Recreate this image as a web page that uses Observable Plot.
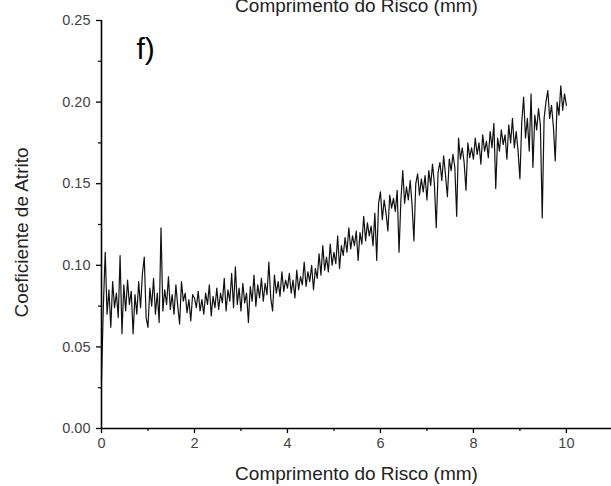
<!DOCTYPE html>
<html>
<head>
<meta charset="utf-8">
<script src="https://cdn.jsdelivr.net/npm/d3@7"></script>
<script src="https://cdn.jsdelivr.net/npm/@observablehq/plot@0.6"></script>
<style>
  html, body { margin: 0; padding: 0; background: white; }
</style>
</head>
<body>
<div id="chart"></div>
<script>
// Sampling of the scratch length (mm)
const xStart = 0;
const xStep = 0.04;

// Coefficient of friction, one value per 0.04 mm
const cof_0_1 = [0.03, 0.075, 0.108, 0.07, 0.085, 0.062, 0.09, 0.074, 0.083, 0.068, 0.106, 0.058, 0.088, 0.072, 0.091, 0.076, 0.084, 0.058, 0.082, 0.07, 0.09, 0.074, 0.095, 0.105, 0.068];
const cof_1_2 = [0.062, 0.086, 0.075, 0.092, 0.07, 0.083, 0.065, 0.123, 0.072, 0.085, 0.076, 0.093, 0.073, 0.082, 0.07, 0.088, 0.075, 0.064, 0.09, 0.078, 0.083, 0.071, 0.079, 0.066, 0.082];
const cof_2_3 = [0.08, 0.074, 0.084, 0.072, 0.079, 0.07, 0.083, 0.076, 0.088, 0.069, 0.081, 0.074, 0.086, 0.073, 0.083, 0.077, 0.092, 0.072, 0.085, 0.078, 0.095, 0.074, 0.099, 0.076, 0.086];
const cof_3_4 = [0.072, 0.089, 0.077, 0.083, 0.065, 0.087, 0.078, 0.094, 0.075, 0.088, 0.08, 0.092, 0.078, 0.089, 0.082, 0.102, 0.08, 0.072, 0.094, 0.083, 0.09, 0.081, 0.096, 0.084, 0.091];
const cof_4_5 = [0.086, 0.095, 0.083, 0.091, 0.08, 0.097, 0.085, 0.093, 0.088, 0.102, 0.087, 0.096, 0.09, 0.1, 0.085, 0.098, 0.092, 0.107, 0.094, 0.112, 0.097, 0.105, 0.096, 0.113, 0.1];
const cof_5_6 = [0.108, 0.101, 0.118, 0.098, 0.112, 0.106, 0.117, 0.108, 0.123, 0.11, 0.118, 0.112, 0.121, 0.103, 0.12, 0.113, 0.13, 0.115, 0.126, 0.118, 0.124, 0.112, 0.132, 0.103, 0.138];
const cof_6_7 = [0.145, 0.128, 0.14, 0.132, 0.121, 0.143, 0.135, 0.141, 0.133, 0.146, 0.108, 0.14, 0.158, 0.138, 0.148, 0.14, 0.152, 0.137, 0.115, 0.15, 0.156, 0.143, 0.153, 0.145, 0.155];
const cof_7_8 = [0.14, 0.158, 0.149, 0.162, 0.15, 0.123, 0.157, 0.163, 0.152, 0.167, 0.155, 0.142, 0.165, 0.158, 0.168, 0.16, 0.13, 0.178, 0.165, 0.172, 0.163, 0.146, 0.175, 0.166, 0.172];
const cof_8_9 = [0.165, 0.178, 0.168, 0.175, 0.162, 0.18, 0.17, 0.176, 0.166, 0.182, 0.172, 0.187, 0.147, 0.178, 0.17, 0.183, 0.174, 0.18, 0.165, 0.186, 0.175, 0.19, 0.172, 0.182, 0.17];
const cof_9_10 = [0.153, 0.188, 0.203, 0.178, 0.19, 0.17, 0.205, 0.16, 0.192, 0.183, 0.196, 0.186, 0.129, 0.19, 0.2, 0.207, 0.19, 0.198, 0.185, 0.164, 0.2, 0.192, 0.21, 0.195, 0.205, 0.198];

// Tick values and labels
const xTicks = [0, 2, 4, 6, 8, 10];
const xMinorTicks = [1, 3, 5, 7, 9];
const yTicks = [0, 0.05, 0.10, 0.15, 0.20, 0.25];
const yMinorTicks = [0.025, 0.075, 0.125, 0.175, 0.225];
const xLabel = "Comprimento do Risco (mm)";
const yLabel = "Coeficiente de Atrito";
const panelLabel = "f)";

const cof = [].concat(cof_0_1, cof_1_2, cof_2_3, cof_3_4, cof_4_5, cof_5_6, cof_6_7, cof_7_8, cof_8_9, cof_9_10);
const data = cof.map((v, i) => ({x: xStart + i * xStep, y: v}));

const font = "'Liberation Sans', Arial, sans-serif";

const chart = Plot.plot({
  width: 611,
  height: 486,
  marginLeft: 101,
  marginRight: 0,
  marginTop: 20,
  marginBottom: 58,
  style: {fontFamily: font, background: "white", color: "black", overflow: "visible"},
  x: {domain: [0, 10.97]},
  y: {domain: [0, 0.25]},
  marks: [
    Plot.axisY(yTicks, {tickSize: 5, tickPadding: 6, tickFormat: d => d.toFixed(2), fontSize: 14.5, fill: "#444", stroke: "black", strokeWidth: 1.3, label: null}),
    Plot.axisY(yMinorTicks, {tickSize: 3, tickFormat: () => "", stroke: "black", strokeWidth: 1.2, label: null}),
    Plot.axisX(xTicks, {tickSize: 5, tickPadding: 4, fontSize: 14.5, fill: "#444", stroke: "black", strokeWidth: 1.3, label: null}),
    Plot.axisX(xMinorTicks, {tickSize: 3, tickFormat: () => "", stroke: "black", strokeWidth: 1.2, label: null}),
    Plot.line(data, {x: "x", y: "y", stroke: "#111", strokeWidth: 1.2}),
    Plot.ruleX([0], {stroke: "black", strokeWidth: 1.6}),
    Plot.ruleY([0], {stroke: "black", strokeWidth: 1.6}),
    Plot.text([xLabel], {frameAnchor: "top", lineAnchor: "bottom", dy: -9, fontSize: 19, fill: "#222"}),
    Plot.text([xLabel], {frameAnchor: "bottom", lineAnchor: "bottom", dy: 51, fontSize: 19, fill: "#222"}),
    Plot.text([yLabel], {frameAnchor: "left", rotate: -90, dx: -80, dy: 8, textAnchor: "middle", lineAnchor: "middle", fontSize: 19, fill: "#222"}),
    Plot.text([panelLabel], {frameAnchor: "top-left", textAnchor: "start", lineAnchor: "bottom", dx: 35, dy: 38, fontSize: 30, fill: "black", fontFamily: "'Liberation Sans Narrow', 'Arial Narrow', " + font})
  ]
});
document.getElementById("chart").appendChild(chart);
</script>
</body>
</html>
